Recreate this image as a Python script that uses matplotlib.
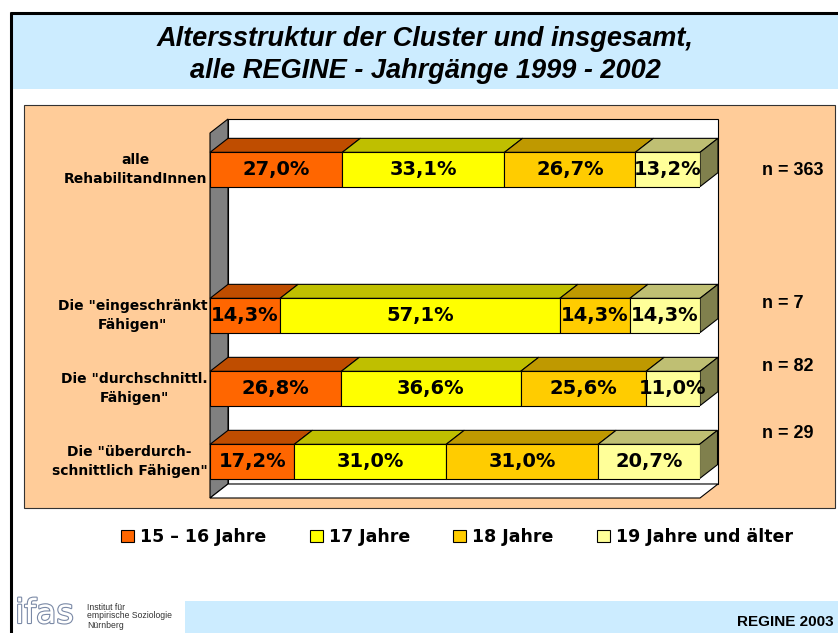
import matplotlib
matplotlib.use("Agg")
import matplotlib.pyplot as plt
from matplotlib.patches import Rectangle, Polygon, Patch
from matplotlib import patheffects

# Anteile der Altersgruppen je Cluster (in %)
categories = ['alle\nRehabilitandInnen',
              'Die "eingeschränkt\nFähigen"',
              'Die "durchschnittl.\nFähigen"',
              'Die "überdurch-\nschnittlich Fähigen"']
cat_pos = [4, 2, 1, 0]          # Platz 3 bleibt leer
age_groups = ['15 – 16 Jahre', '17 Jahre', '18 Jahre', '19 Jahre und älter']
age_15_16 = [27.0, 14.3, 26.8, 17.2]
age_17 = [33.1, 57.1, 36.6, 31.0]
age_18 = [26.7, 14.3, 25.6, 31.0]
age_19plus = [13.2, 14.3, 11.0, 20.7]
n_labels = ['n = 363', 'n = 7', 'n = 82', 'n = 29']
n_label_y = [3.99, 2.16, 1.30, 0.38]

series = [age_15_16, age_17, age_18, age_19plus]
front_cols = ['#FF6600', '#FFFF00', '#FFCC00', '#FFFF99']
top_cols = ['#BF4D00', '#BFBF00', '#BF9900', '#BFBF73']
side_col = '#80804D'

W, H = 838, 633
fig = plt.figure(figsize=(W / 100, H / 100), dpi=100)

# Hintergrund in Pixelkoordinaten
bg = fig.add_axes([0, 0, 1, 1])
bg.set_xlim(0, W)
bg.set_ylim(H, 0)
bg.axis('off')
bg.add_patch(Rectangle((12, 14), W - 12, 75, facecolor='#CCECFF', edgecolor='none'))
bg.plot([10, W], [13, 13], color='black', lw=2.2, solid_capstyle='butt')
bg.plot([11, 11], [12, H], color='black', lw=2.2, solid_capstyle='butt')
bg.text(425, 55, 'Altersstruktur der Cluster und insgesamt,\nalle REGINE - Jahrgänge 1999 - 2002',
        ha='center', va='center', fontsize=19.5, fontweight='bold', fontstyle='italic',
        family='Liberation Sans', linespacing=1.33)
bg.add_patch(Rectangle((24, 105), 811, 403, facecolor='#FFCC99', edgecolor='#333333', lw=0.8))
bg.add_patch(Rectangle((185, 601), W - 185, H - 601, facecolor='#CCECFF', edgecolor='none'))
bg.text(834, 622, 'REGINE 2003', ha='right', va='center', fontsize=11,
        fontweight='bold', family='Liberation Sans')
bg.text(15, 630, 'ifas', ha='left', va='bottom', fontsize=24, color='white',
        family='DejaVu Sans',
        path_effects=[patheffects.withStroke(linewidth=1.6, foreground='#7A89A6')])
bg.text(87, 616, 'Institut für\nempirische Soziologie\nNürnberg', ha='left', va='center',
        fontsize=6.2, color='#333333', family='Liberation Sans', linespacing=1.0)

# 3D-Balkendiagramm
ax = fig.add_axes([210 / W, (H - 498) / H, 490 / W, 365 / H])
ax.set_xlim(0, 100)
ax.set_ylim(-0.5, 4.5)
ax.axis('off')
ax.set_zorder(2)

dx = 18 / 490 * 100
dy = 14 / 73
bar_h = 0.47

ax.add_patch(Rectangle((dx, -0.5 + dy), 100, 5, facecolor='white', edgecolor='black',
                       lw=0.8, clip_on=False, zorder=1))
ax.add_patch(Polygon([(0, -0.5), (dx, -0.5 + dy), (dx, 4.5 + dy), (0, 4.5)],
                     facecolor='#808080', edgecolor='black', lw=0.8, clip_on=False, zorder=1))
ax.add_patch(Polygon([(0, -0.5), (100, -0.5), (100 + dx, -0.5 + dy), (dx, -0.5 + dy)],
                     facecolor='white', edgecolor='black', lw=0.8, clip_on=False, zorder=1))

lefts = [0.0] * len(cat_pos)
for j, vals in enumerate(series):
    ax.barh(cat_pos, vals, left=lefts, height=bar_h, color=front_cols[j],
            edgecolor='black', lw=0.8, zorder=3)
    for i, y in enumerate(cat_pos):
        l, r = lefts[i], lefts[i] + vals[i]
        yt = y + bar_h / 2
        ax.add_patch(Polygon([(l, yt), (r, yt), (r + dx, yt + dy), (l + dx, yt + dy)],
                             facecolor=top_cols[j], edgecolor='black', lw=0.8,
                             clip_on=False, zorder=2))
        if j == len(series) - 1:
            yb = y - bar_h / 2
            ax.add_patch(Polygon([(r, yb), (r, yt), (r + dx, yt + dy), (r + dx, yb + dy)],
                                 facecolor=side_col, edgecolor='black', lw=0.8,
                                 clip_on=False, zorder=2))
        ax.text((l + r) / 2, y, f'{vals[i]:.1f}%'.replace('.', ','), ha='center',
                va='center', fontsize=14, fontweight='bold', family='DejaVu Sans', zorder=4)
    lefts = [lefts[i] + vals[i] for i in range(len(cat_pos))]

for lab, y in zip(categories, cat_pos):
    ax.text(-0.5, y, lab, ha='right', va='center', multialignment='center',
            fontsize=10, fontweight='bold', family='DejaVu Sans', linespacing=1.45,
            clip_on=False)

for lab, y in zip(n_labels, n_label_y):
    ax.text(112.7, y, lab, ha='left', va='center', fontsize=13, fontweight='bold',
            family='Liberation Sans', clip_on=False)

handles = [Patch(facecolor=c, edgecolor='black', lw=0.8) for c in front_cols]
fig.legend(handles, age_groups, ncol=4, loc='center', bbox_to_anchor=(457 / W, 1 - 537 / H),
           frameon=False, prop={'family': 'DejaVu Sans', 'weight': 'bold', 'size': 12.5},
           handlelength=0.75, handleheight=0.75, handletextpad=0.35, columnspacing=2.5)

fig.savefig('out.png', dpi=100)
